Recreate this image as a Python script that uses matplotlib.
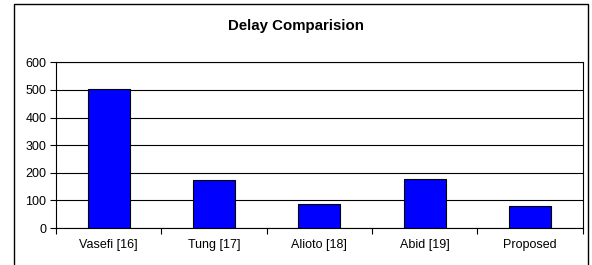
import matplotlib.pyplot as plt
from matplotlib.patches import Rectangle

plt.rcParams['font.family'] = ['Liberation Sans', 'DejaVu Sans']

# data
methods = ["Vasefi [16]", "Tung [17]", "Alioto [18]", "Abid [19]", "Proposed"]
delay = [502, 172, 88, 179, 81]
y_ticks = [0, 100, 200, 300, 400, 500, 600]

fig = plt.figure(figsize=(5.92, 2.65), dpi=100)
ax = fig.add_axes([0.0946, 0.1396, 0.8894, 0.6254])

x = list(range(len(methods)))
ax.bar(x, delay, width=0.4, color='#0000ff', edgecolor='black', linewidth=0.8, zorder=3)

ax.set_xlim(-0.5, len(methods) - 0.5)
ax.set_ylim(0, 600)
ax.set_yticks(y_ticks)
ax.yaxis.grid(True, color='black', linewidth=0.8, zorder=0)

# x ticks between categories, labels centred under bars
ax.set_xticks([i - 0.5 for i in range(len(methods) + 1)])
ax.set_xticklabels([])
ax.set_xticks(x, minor=True)
ax.set_xticklabels(methods, minor=True)
ax.tick_params(axis='x', which='minor', length=0, pad=8, labelsize=9)
ax.tick_params(axis='x', which='major', length=4, direction='out', width=0.8)
ax.tick_params(axis='y', length=4, width=0.8, labelsize=9, pad=3)

for s in ax.spines.values():
    s.set_color('black')
    s.set_linewidth(0.8)

fig.text(0.5, 1 - 26 / 265, "Delay Comparision", ha='center', va='center',
         fontsize=10.8, fontweight='bold')

# outer chart border (cropped at bottom)
fig.patches.append(Rectangle((14 / 592, -0.2), (588 - 14) / 592, 1.2 - 4 / 265,
                             transform=fig.transFigure, fill=False,
                             edgecolor='black', linewidth=1.0))

fig.savefig("out.png", dpi=100)
